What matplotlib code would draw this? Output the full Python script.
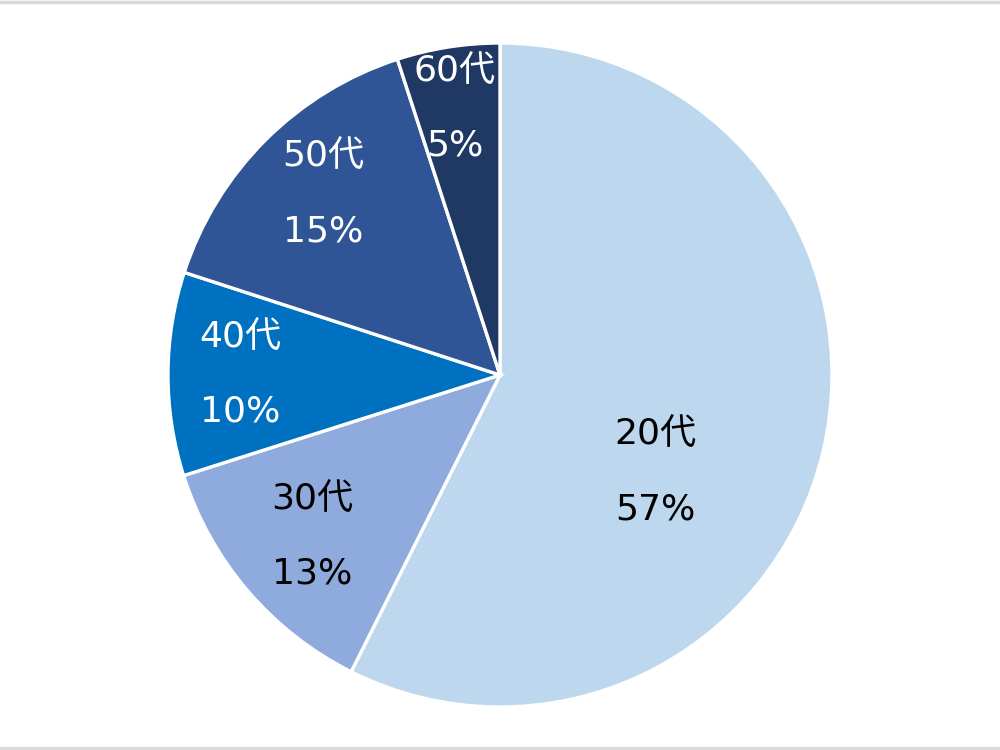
import matplotlib
matplotlib.use("Agg")
import matplotlib.pyplot as plt
from matplotlib.lines import Line2D

plt.rcParams['font.family'] = ['DejaVu Sans', 'Noto Sans CJK JP']

# data
ages = ["20代", "30代", "40代", "50代", "60代"]
shares = [57.4, 12.7, 9.9, 15.0, 5.0]

colors = ["#BDD7EE", "#8FAADC", "#0070C0", "#2F5597", "#203864"]
text_colors = ["black", "black", "white", "white", "white"]
# label centres in pixels (x, y from top) for the age line
label_xy = [(655, 434), (312, 499), (240, 337), (323, 156), (455, 71)]

fig = plt.figure(figsize=(10, 7.5), dpi=100)
ax = fig.add_axes([0, 0, 1, 1])

ax.pie(shares, colors=colors, startangle=90, counterclock=False,
       center=(500, 375), radius=332,
       wedgeprops=dict(edgecolor="white", linewidth=2.4))
ax.set_xlim(0, 1000)
ax.set_ylim(0, 750)
ax.set_aspect("equal")
ax.axis("off")

for name, val, (x, y), tc in zip(ages, shares, label_xy, text_colors):
    ax.text(x, 750 - y, name, ha="center", va="center", fontsize=26, color=tc)
    ax.text(x, 750 - y - 75, f"{val:.0f}%", ha="center", va="center", fontsize=26, color=tc)

# thin grey frame lines at top and bottom
fig.add_artist(Line2D([0, 1], [0.998, 0.998], transform=fig.transFigure, color="#D9D9D9", lw=2.5))
fig.add_artist(Line2D([0, 1], [0.002, 0.002], transform=fig.transFigure, color="#D9D9D9", lw=3))

fig.savefig("out.png", dpi=100)
